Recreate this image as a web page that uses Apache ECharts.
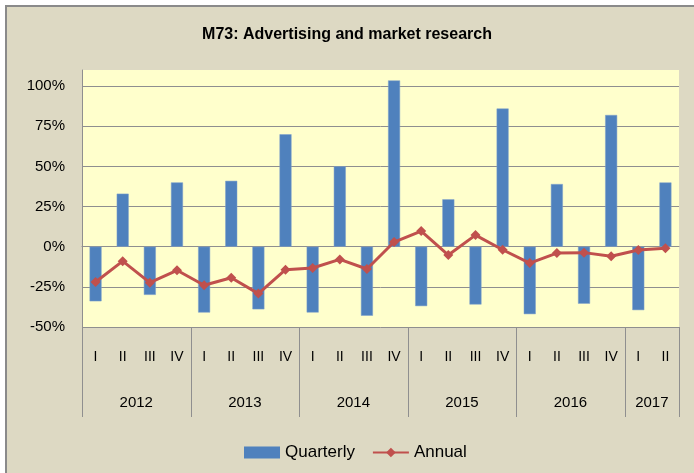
<!DOCTYPE html>
<html>
<head>
<meta charset="utf-8">
<script src="https://cdn.jsdelivr.net/npm/echarts@6/dist/echarts.min.js"></script>
<style>
  html, body { margin: 0; padding: 0; background: #ffffff; overflow: hidden; width: 694px; height: 473px; }
  #bg { position: absolute; left: 5px; top: 5px; width: 720px; height: 500px;
        background: #DDD9C3; border-left: 2px solid #8a8a8a; border-top: 2px solid #8a8a8a; box-sizing: border-box; }
  #chart { position: absolute; left: 0; top: 0; width: 694px; height: 473px; }
</style>
</head>
<body>
<div id="bg"></div>
<div id="chart"></div>
<script>
const quarters = ['I','II','III','IV','I','II','III','IV','I','II','III','IV','I','II','III','IV','I','II','III','IV','I','II'];
const years = ['2012','2013','2014','2015','2016','2017'];
const yearCenters = [2, 6, 10, 14, 18, 21];
const yearBoundaries = [0, 4, 8, 12, 16, 20, 22];
const quarterly = [-34, 33, -30, 40, -41, 41, -39, 70, -41, 50, -43, 103.5, -37, 29.5, -36, 86, -42, 39, -35.5, 82, -39.5, 40];
const annual = [-22, -9, -22.4, -14.7, -24, -19.3, -29.2, -14.3, -13.3, -7.9, -13.9, 2.9, 9.7, -5.2, 7.2, -1.9, -10.2, -4, -3.7, -6, -2.1, -1];
const yTicks = { min: -50, max: 110, interval: 25 };

const FONT = 'Liberation Sans';
const GRID = '#8f8f8f';

const chart = echarts.init(document.getElementById('chart'), null, { renderer: 'canvas' });
chart.setOption({
  backgroundColor: 'transparent',
  animation: false,
  textStyle: { fontFamily: FONT },
  title: {
    text: 'M73: Advertising and market research',
    left: 'center',
    top: 22,
    padding: [5, 0, 5, 10],
    textStyle: { fontFamily: FONT, fontSize: 16, fontWeight: 'bold', color: '#000' }
  },
  legend: {
    left: 239,
    top: 439,
    itemWidth: 36,
    itemHeight: 12,
    itemGap: 17,
    textStyle: { fontFamily: FONT, fontSize: 17, color: '#000' },
    data: [{ name: 'Quarterly', icon: 'rect', itemStyle: { borderWidth: 0 } }, { name: 'Annual' }]
  },
  grid: { left: 82, right: 15, top: 70, bottom: 146, containLabel: false,
          show: true, backgroundColor: '#FFFFCC', borderWidth: 0 },
  xAxis: [
    {
      type: 'category',
      data: quarters,
      position: 'bottom',
      boundaryGap: true,
      axisLine: { show: true, lineStyle: { color: GRID, width: 1 } },
      axisTick: { show: false },
      axisLabel: { interval: 0, margin: 23, fontSize: 14, color: '#000', fontFamily: FONT },
      splitLine: { show: false }
    },
    {
      type: 'value',
      position: 'bottom',
      min: 0, max: 22, interval: 1,
      axisLine: { show: false },
      axisTick: { show: false },
      splitLine: { show: false },
      axisLabel: {
        margin: 68, fontSize: 15, color: '#000', fontFamily: FONT,
        formatter: function (v) {
          const i = yearCenters.indexOf(Math.round(v));
          return i >= 0 ? years[i] : '';
        }
      }
    }
  ],
  yAxis: {
    type: 'value',
    min: yTicks.min, max: yTicks.max, interval: yTicks.interval,
    axisLine: { show: true, lineStyle: { color: GRID, width: 1 } },
    axisTick: { show: false },
    axisLabel: { margin: 17, fontSize: 15, color: '#000', fontFamily: FONT, showMaxLabel: false,
                 formatter: function (v) { return v + '%'; } },
    splitLine: { show: true, showMaxLine: false, lineStyle: { color: GRID, width: 1 } }
  },
  series: [
    {
      name: 'Quarterly',
      type: 'bar',
      data: quarterly,
      barWidth: 12,
      itemStyle: { color: '#4F81BD', borderColor: '#7fa0cc', borderWidth: 0.5 },
      z: 2
    },
    {
      name: 'Annual',
      type: 'line',
      data: annual,
      symbol: 'diamond',
      symbolSize: 10,
      lineStyle: { color: '#C0504D', width: 3 },
      itemStyle: { color: '#C0504D' },
      z: 3
    },
    {
      name: 'yearSeparators',
      type: 'custom',
      xAxisIndex: 1,
      clip: false,
      silent: true,
      legendHoverLink: false,
      data: yearBoundaries.map(function (b) { return [b, yTicks.min]; }),
      renderItem: function (params, api) {
        const p = api.coord([api.value(0), api.value(1)]);
        const x = Math.round(p[0]) + 0.5;
        return {
          type: 'line',
          shape: { x1: x, y1: p[1], x2: x, y2: p[1] + 90 },
          style: { stroke: GRID, lineWidth: 1 }
        };
      },
      z: 1
    }
  ]
});
</script>
</body>
</html>
